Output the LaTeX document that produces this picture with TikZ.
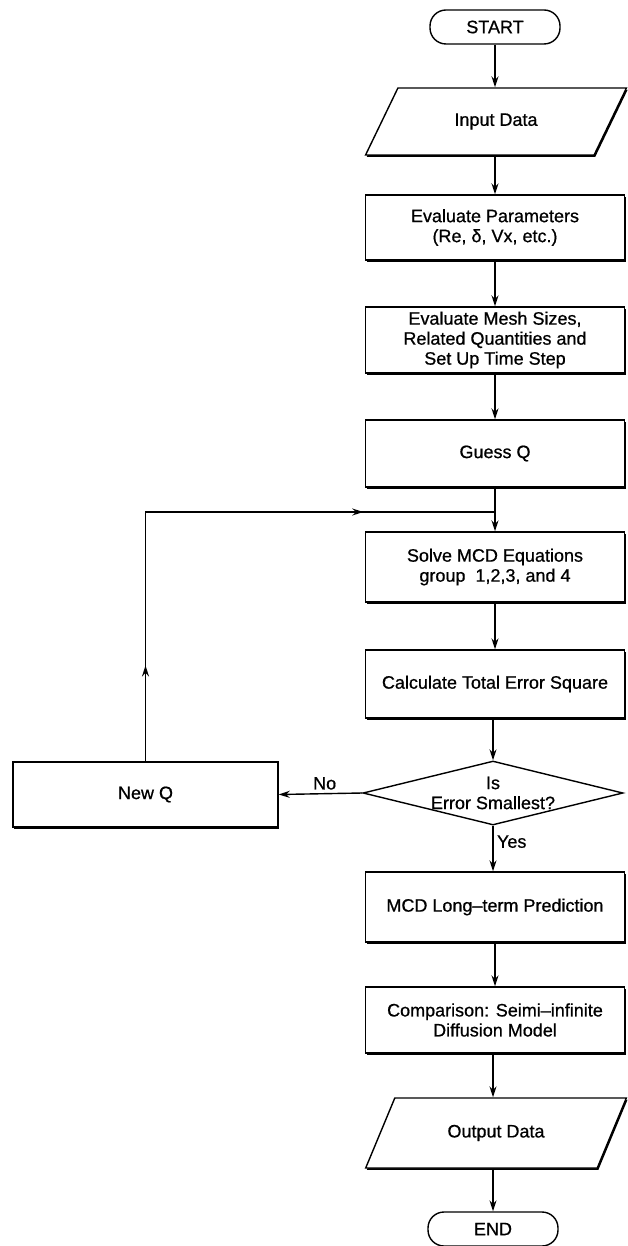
\documentclass[tikz,border=0pt]{standalone}
\usepackage{fontspec}
\setmainfont{Liberation Sans}[FakeBold=0.7]
\usetikzlibrary{shapes.geometric, arrows.meta, shadows, decorations.markings}

\begin{document}
\begin{tikzpicture}[
    x=1pt, y=-1pt,
    font=\fontsize{18}{20}\selectfont,
    line width=1.4pt,
    >={Stealth[length=11pt, width=7pt]},
    terminal/.style={rounded corners=16pt, draw, fill=white,
                     minimum width=130pt, minimum height=34pt},
    proc/.style={draw, fill=white, minimum width=259pt,
                 minimum height=#1, align=center,
                 drop shadow={shadow xshift=1.2pt, shadow yshift=-1.8pt,
                              fill=black, opacity=1}},
    io/.style={trapezium, trapezium left angle=57, trapezium right angle=123,
               trapezium stretches=true, draw, fill=white,
               minimum width=261pt, minimum height=#1,
               drop shadow={shadow xshift=1.2pt, shadow yshift=-1.8pt,
                            fill=black, opacity=1}},
    decision/.style={diamond, draw, fill=white, aspect=4, inner sep=-4pt,
                     minimum width=260pt, minimum height=64pt, align=center},
    flow/.style={->},
    loopback/.style={postaction={decorate},
                     decoration={markings,
                       mark=at position 0.16 with {\arrow{>}},
                       mark=at position 0.78 with {\arrow{>}}}},
  ]
  \useasboundingbox (0,0) rectangle (627,1246);

  % main column
  \node[terminal] (start) at (495, 27) {START};
  \node[io=67pt] (input) at (496, 121.5) {Input Data};
  \node[proc=65pt] (params) at (495, 227.5) {Evaluate Parameters\\(Re, δ, Vx, etc.)};
  \node[proc=66pt] (mesh) at (495, 340) {Evaluate Mesh Sizes,\\Related Quantities and\\Set Up Time Step};
  \node[proc=67pt] (guess) at (495, 453.5) {Guess Q};
  \node[proc=70pt] (solve) at (495, 567) {Solve MCD Equations\\group~ 1,2,3, and 4};
  \node[proc=68pt] (calc) at (495, 684) {Calculate Total Error Square};
  \node[decision] (dec) at (493, 793) {Is\\Error Smallest?};
  \node[proc=70pt] (predict) at (495, 907) {MCD Long–term Prediction};
  \node[proc=66pt] (compare) at (495, 1020) {Comparison: Seimi–infinite\\Diffusion Model};
  \node[io=70pt] (output) at (496, 1133) {Output Data};
  \node[terminal] (end) at (493, 1229) {END};

  % side branch
  \node[proc=65pt, minimum width=265pt] (newq) at (145.5, 794.5) {New Q};
  \coordinate (join) at (495, 512);

  \draw[flow] (start) -- (start |- input.north);
  \draw[flow] (input.south -| start) -- (params);
  \draw[flow] (params) -- (mesh);
  \draw[flow] (mesh) -- (guess);
  \draw[flow] (guess) -- (solve);
  \draw[flow] (solve) -- (calc);
  \draw[flow] (calc.south -| dec) -- (dec.north);
  \draw[flow] (dec.south) -- node[right, pos=0.35] {Yes} (dec.south |- predict.north);
  \draw[flow] (dec.west) -- node[above, pos=0.45] {No} (newq.east);
  \draw[loopback] (newq.north) -- (newq.north |- join) -- (join);
  \draw[flow] (predict) -- (compare);
  \draw[flow] (compare.south -| end) -- (end |- output.north);
  \draw[flow] (output.south -| end) -- (end);
\end{tikzpicture}
\end{document}
